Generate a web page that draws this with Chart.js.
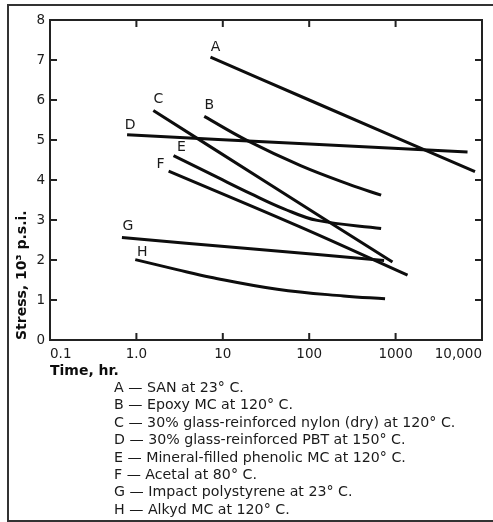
<!DOCTYPE html>
<html>
<head>
<meta charset="utf-8">
<script src="https://cdn.jsdelivr.net/npm/chart.js@4.4.1/dist/chart.umd.min.js"></script>
<style>
  html, body { margin: 0; padding: 0; background: #fff; overflow: hidden; }
  body { width: 493px; height: 522px; position: relative; font-family: "DejaVu Sans", Verdana, sans-serif; }
  #frame { position: absolute; left: 7px; top: 4px; width: 500px; height: 518px; border: 2px solid #333; box-sizing: border-box; }
  #key { position: absolute; left: 114px; top: 379px; font-size: 14.2px; line-height: 17.4px; color: #1a1a1a; white-space: nowrap; }
</style>
</head>
<body>
<div id="frame"></div>
<canvas id="creepChart" width="493" height="380"></canvas>
<div id="key"></div>

<script>
// Tick values and their printed labels
const xTicks = [0.1, 1, 10, 100, 1000, 10000];
const xTickLabels = ['0.1', '1.0', '10', '100', '1000', '10,000'];
const yTicks = [0, 1, 2, 3, 4, 5, 6, 7, 8];

// Curve letters and what they stand for
const seriesLetters = ['A', 'B', 'C', 'D', 'E', 'F', 'G', 'H'];
const seriesNames = [
  'SAN at 23° C.',
  'Epoxy MC at 120° C.',
  '30% glass-reinforced nylon (dry) at 120° C.',
  '30% glass-reinforced PBT at 150° C.',
  'Mineral-filled phenolic MC at 120° C.',
  'Acetal at 80° C.',
  'Impact polystyrene at 23° C.',
  'Alkyd MC at 120° C.'
];

// Time (hr.) and stress (10^3 p.s.i.)
const timeA = [7.2, 100, 8300];
const stressA = [7.07, 6.0, 4.21];
const timeB = [6.1, 19, 79.5, 300, 680];
const stressB = [5.59, 4.99, 4.36, 3.88, 3.62];
const timeC = [1.57, 30, 920];
const stressC = [5.74, 3.98, 1.95];
const timeD = [0.78, 100, 6800];
const stressD = [5.13, 4.90, 4.70];
const timeE = [2.69, 8.6, 21, 51, 124, 680];
const stressE = [4.61, 4.07, 3.66, 3.28, 2.99, 2.79];
const timeF = [2.36, 79.5, 1375];
const stressF = [4.22, 2.82, 1.62];
const timeG = [0.68, 21, 736];
const stressG = [2.56, 2.28, 1.99];
const timeH = [0.97, 2.95, 7.2, 42.7, 250, 755];
const stressH = [2.01, 1.76, 1.57, 1.27, 1.10, 1.03];

const allTimes = [timeA, timeB, timeC, timeD, timeE, timeF, timeG, timeH];
const allStress = [stressA, stressB, stressC, stressD, stressE, stressF, stressG, stressH];

// where each letter sits relative to the start of its curve (px)
const letterOffsets = [[5, -10], [5, -11], [5, -11], [3, -9], [8, -8], [-8, -7], [6, -11], [7, -7]];

// legend text under the chart
document.getElementById('key').innerHTML = seriesLetters
  .map((l, i) => `<div>${l} — ${seriesNames[i]}</div>`).join('');

const datasets = seriesLetters.map((l, i) => ({
  label: l,
  data: allTimes[i].map((t, k) => ({ x: t, y: allStress[i][k] })),
  borderColor: '#0d0d0d',
  borderWidth: 3,
  pointRadius: 0,
  fill: false,
  tension: 0.4
}));

// box round the plot, with inward tick marks on all four sides
const framePlugin = {
  id: 'frame',
  afterDraw(chart) {
    const ctx = chart.ctx;
    const a = chart.chartArea;
    const xs = chart.scales.x, ys = chart.scales.y;
    ctx.save();
    ctx.strokeStyle = '#222';
    ctx.lineWidth = 2;
    ctx.strokeRect(a.left, a.top, a.right - a.left, a.bottom - a.top);
    ctx.beginPath();
    yTicks.slice(1, -1).forEach(v => {
      const y = ys.getPixelForValue(v);
      ctx.moveTo(a.left, y); ctx.lineTo(a.left + 7, y);
      ctx.moveTo(a.right, y); ctx.lineTo(a.right - 7, y);
    });
    xTicks.slice(1, -1).forEach(v => {
      const x = xs.getPixelForValue(v);
      ctx.moveTo(x, a.bottom); ctx.lineTo(x, a.bottom - 7);
      ctx.moveTo(x, a.top); ctx.lineTo(x, a.top + 7);
    });
    ctx.stroke();

    // curve letters
    ctx.fillStyle = '#1a1a1a';
    ctx.font = '14px "DejaVu Sans"';
    ctx.textAlign = 'center';
    ctx.textBaseline = 'middle';
    chart.data.datasets.forEach((ds, i) => {
      const p = chart.getDatasetMeta(i).data[0];
      ctx.fillText(seriesLetters[i], p.x + letterOffsets[i][0], p.y + letterOffsets[i][1]);
    });
    ctx.restore();
  }
};

const ctx = document.getElementById('creepChart').getContext('2d');
const creepChart = new Chart(ctx, {
  type: 'line',
  data: { datasets: datasets },
  options: {
    responsive: false,
    animation: false,
    devicePixelRatio: 1,
    layout: { padding: { top: 20, right: 11, left: 0, bottom: 0 } },
    plugins: { legend: { display: false }, tooltip: { enabled: false } },
    scales: {
      x: {
        type: 'logarithmic',
        min: 0.1,
        max: 10000,
        afterBuildTicks: s => { s.ticks = xTicks.map(v => ({ value: v })); },
        afterFit: s => { s.height = 40; },
        grid: { display: false, drawTicks: false },
        border: { display: false },
        ticks: {
          autoSkip: false,
          maxRotation: 0,
          align: 'inner',
          padding: 6,
          color: '#1a1a1a',
          font: { family: 'DejaVu Sans', size: 13.5 },
          callback: v => xTickLabels[xTicks.indexOf(v)]
        },
        title: {
          display: true,
          text: 'Time, hr.',
          align: 'start',
          color: '#0d0d0d',
          padding: { top: 0, bottom: 0 },
          font: { family: 'DejaVu Sans', size: 14, weight: 'bold' }
        }
      },
      y: {
        type: 'linear',
        min: 0,
        max: 8,
        afterBuildTicks: s => { s.ticks = yTicks.map(v => ({ value: v })); },
        afterFit: s => { s.width = 50; },
        grid: { display: false, drawTicks: false },
        border: { display: false },
        ticks: {
          padding: 5,
          color: '#1a1a1a',
          font: { family: 'DejaVu Sans', size: 13.5 }
        },
        title: {
          display: true,
          text: 'Stress, 10³ p.s.i.',
          align: 'start',
          color: '#0d0d0d',
          padding: { top: 14, bottom: 0 },
          font: { family: 'DejaVu Sans', size: 14, weight: 'bold' }
        }
      }
    }
  },
  plugins: [framePlugin]
});
</script>
</body>
</html>
